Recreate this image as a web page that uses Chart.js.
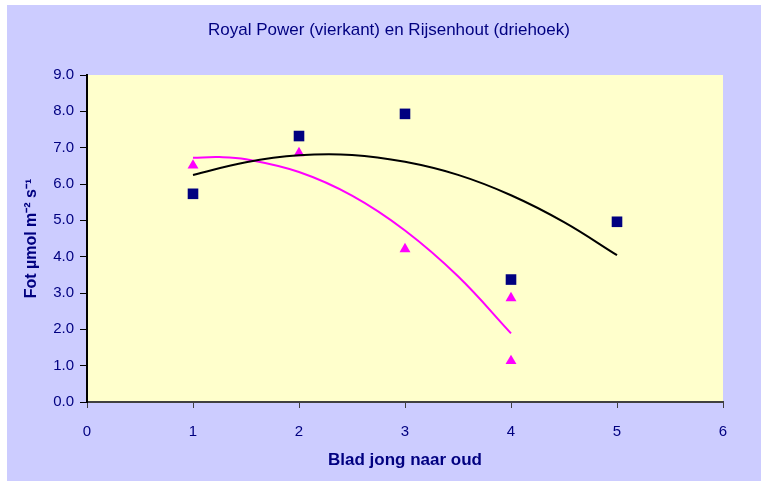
<!DOCTYPE html>
<html lang="nl">
<head>
<meta charset="UTF-8">
<title>Royal Power en Rijsenhout</title>
<script src="https://cdn.jsdelivr.net/npm/chart.js"></script>
<style>
  html, body { margin: 0; padding: 0; background: #fff; }
  #chart { position: absolute; left: 7px; top: 5px; }
</style>
</head>
<body>
<canvas id="chart" width="754" height="476"></canvas>
<script>
  // blad 1 = jong ... 5 = oud
  const royalX = [1, 2, 3, 4, 5];
  const royalPower = [5.73, 7.32, 7.93, 3.37, 4.96];
  const rijsX = [1, 2, 3, 4, 4];
  const rijsenhout = [6.51, 6.85, 4.21, 2.86, 1.13];

  // trendlijnen
  const royalTrendX = [1, 1.5, 2, 2.5, 3, 3.5, 4, 4.5, 5];
  const royalTrend = [6.25, 6.6, 6.79, 6.8, 6.61, 6.25, 5.69, 4.95, 4.04];
  const rijsTrendX = [1, 1.25, 1.5, 2, 2.5, 3, 3.5, 4];
  const rijsTrend = [6.72, 6.74, 6.68, 6.33, 5.68, 4.72, 3.46, 1.89];

  const xTicks = [0, 1, 2, 3, 4, 5, 6];
  const yTicks = [0, 1, 2, 3, 4, 5, 6, 7, 8, 9];

  const navy = '#000080';
  const font = "'Liberation Sans', Arial, sans-serif";

  const pts = (xs, ys) => xs.map((x, i) => ({ x: x, y: ys[i] }));

  const background = {
    id: 'background',
    beforeDraw(chart) {
      const { ctx, chartArea: a } = chart;
      ctx.save();
      ctx.fillStyle = '#CCCCFF';
      ctx.fillRect(0, 0, chart.width, chart.height);
      ctx.fillStyle = '#FFFFCC';
      ctx.fillRect(a.left, a.top, a.right - a.left, a.bottom - a.top);
      ctx.restore();
    }
  };

  new Chart(document.getElementById('chart'), {
    type: 'scatter',
    data: {
      datasets: [
        {
          data: pts(royalTrendX, royalTrend),
          showLine: true, borderColor: '#000000', borderWidth: 2,
          pointRadius: 0, tension: 0.4, fill: false
        },
        {
          data: pts(rijsTrendX, rijsTrend),
          showLine: true, borderColor: '#FF00FF', borderWidth: 2,
          pointRadius: 0, tension: 0.4, fill: false
        },
        {
          label: 'Royal Power',
          data: pts(royalX, royalPower),
          pointStyle: 'rect', pointRadius: 7.5,
          backgroundColor: navy, borderColor: navy, borderWidth: 0
        },
        {
          label: 'Rijsenhout',
          data: pts(rijsX, rijsenhout),
          pointStyle: 'triangle', pointRadius: 6.3,
          backgroundColor: '#FF00FF', borderColor: '#FF00FF', borderWidth: 0
        }
      ]
    },
    options: {
      responsive: false,
      animation: false,
      layout: { padding: { left: 10, right: 0, top: 0, bottom: 0 } },
      plugins: {
        legend: { display: false },
        tooltip: { enabled: false },
        title: {
          display: true,
          text: 'Royal Power (vierkant) en Rijsenhout (driehoek)',
          color: navy,
          font: { family: font, size: 17, weight: 'normal' },
          padding: { top: 14.8, bottom: 34.8 }
        }
      },
      scales: {
        x: {
          type: 'linear', min: 0, max: 6,
          afterFit(s) { s.height = 79; },
          afterBuildTicks(s) { s.ticks = xTicks.map(v => ({ value: v })); },
          ticks: { color: navy, font: { family: font, size: 15 }, padding: 15 },
          grid: { drawOnChartArea: false, drawTicks: true, tickLength: 6, color: '#404040' },
          border: { color: '#404040', width: 2 },
          title: {
            display: true, text: 'Blad jong naar oud', color: navy,
            font: { family: font, size: 17, weight: 'bold' },
            padding: { top: 0, bottom: 10 }
          }
        },
        y: {
          type: 'linear', min: 0, max: 9,
          afterFit(s) { s.width = 70; },
          afterBuildTicks(s) { s.ticks = yTicks.map(v => ({ value: v })); },
          ticks: {
            color: navy, font: { family: font, size: 15 }, padding: 6,
            callback: v => v.toFixed(1)
          },
          grid: { drawOnChartArea: false, drawTicks: true, tickLength: 7, color: '#000000' },
          border: { color: '#000000', width: 2 },
          title: {
            display: true, text: 'Fot µmol m⁻² s⁻¹', color: navy,
            font: { family: font, size: 16, weight: 'bold' },
            padding: { top: 5.4, bottom: 0 }
          }
        },
        yRight: {
          position: 'right', display: true,
          afterFit(s) { s.width = 38; },
          ticks: { display: false },
          grid: { display: false },
          border: { display: false }
        }
      }
    },
    plugins: [background]
  });
</script>
</body>
</html>
